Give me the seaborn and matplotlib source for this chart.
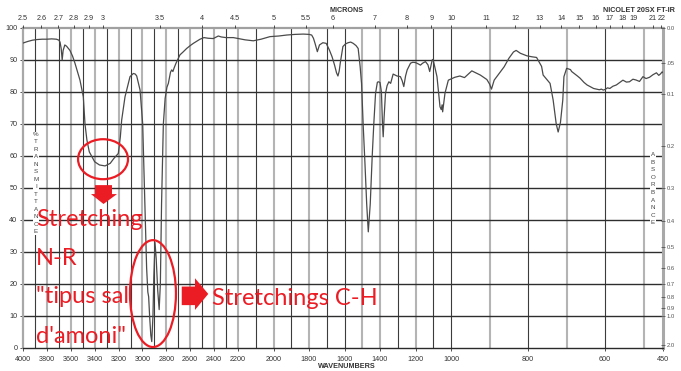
import numpy as np
import pandas as pd
import matplotlib
matplotlib.use("Agg")
import matplotlib.pyplot as plt
import seaborn as sns
from matplotlib.patches import Ellipse, Polygon

# ---- spectrum (wavenumber in cm-1, %T) ----
wavenumber = [
    4000, 3960, 3920, 3880, 3840, 3800, 3760, 3720, 3700, 3690, 3680, 3672, 3664,
    3650, 3635, 3607, 3585, 3565, 3545, 3523, 3495, 3481, 3465, 3445, 3400, 3360,
    3313, 3270, 3240, 3202, 3185, 3174, 3146, 3104, 3076, 3060, 3048, 3035, 3020,
    2998, 2980, 2965, 2955, 2948, 2940, 2930, 2922, 2912, 2905, 2895, 2885, 2872,
    2860, 2850, 2840, 2825, 2810, 2795, 2783, 2765, 2755, 2745, 2735, 2719, 2700,
    2686, 2660, 2630, 2600, 2574, 2540, 2518, 2485, 2450, 2407, 2380, 2365, 2340,
    2300, 2239, 2211, 2160, 2114, 2070, 2020, 1970, 1926, 1880, 1832, 1800, 1785,
    1775, 1766, 1753, 1741, 1722, 1703, 1685, 1670, 1656, 1645, 1637, 1630, 1624,
    1609, 1595, 1580, 1565, 1551, 1535, 1523, 1512, 1504, 1495, 1485, 1475, 1466,
    1455, 1444, 1435, 1425, 1415, 1410, 1400, 1392, 1386, 1382, 1377, 1369, 1360,
    1350, 1340, 1326, 1315, 1304, 1285, 1275, 1266, 1256, 1247, 1228, 1215, 1200,
    1185, 1172, 1160, 1144, 1130, 1120, 1106, 1101, 1090, 1079, 1070, 1062, 1055,
    1050, 1047, 1040, 1034, 1015, 1003, 990, 977, 965, 946, 924, 907, 900, 895,
    888, 880, 862, 850, 838, 831, 820, 803, 790, 778, 765, 761, 752, 743, 735,
    727, 722, 716, 710, 707, 700, 690, 687, 672, 665, 655, 647, 638, 630, 622,
    615, 610, 605, 600, 594, 588, 580, 571, 562, 554, 545, 537, 528, 520, 511,
    502, 494, 485, 476, 467, 461, 457, 452, 450,
]
transmittance = [
    95.3, 95.8, 96.2, 96.4, 96.5, 96.5, 96.6, 96.5, 96.2, 95.6, 93.5, 90.0, 93.0,
    94.7, 94.3, 93.0, 91.2, 89.0, 86.5, 83.7, 78.5, 70.0, 65.0, 61.3, 58.2, 57.2,
    56.9, 57.7, 59.2, 60.8, 66.0, 71.2, 78.5, 84.8, 85.8, 85.6, 85.0, 83.0, 80.6,
    70.0, 45.0, 25.0, 17.5, 16.0, 10.0, 4.0, 2.0, 10.0, 22.0, 33.0, 28.0, 18.0,
    12.0, 20.0, 45.0, 70.0, 78.0, 81.5, 82.7, 86.2, 86.9, 86.4, 87.5, 89.0, 90.5,
    91.6, 92.5, 93.6, 94.5, 95.2, 96.0, 96.5, 97.0, 96.8, 96.7, 97.2, 97.5, 97.2,
    97.0, 97.0, 96.8, 96.3, 96.0, 96.5, 97.3, 97.5, 97.8, 98.0, 98.1, 98.0, 97.8,
    96.8, 95.2, 92.6, 94.7, 95.4, 95.2, 93.1, 91.0, 88.4, 86.0, 85.0, 86.5, 89.0,
    94.2, 95.0, 95.4, 95.6, 95.2, 94.5, 93.6, 88.0, 82.7, 70.0, 58.0, 45.0, 36.3,
    45.0, 59.8, 70.0, 79.6, 83.0, 83.2, 83.0, 80.0, 70.0, 66.0, 72.0, 79.6, 82.0,
    83.2, 82.7, 85.6, 85.3, 85.0, 84.8, 83.5, 81.7, 85.0, 86.9, 89.0, 89.3, 89.2,
    88.8, 88.4, 89.0, 89.5, 88.5, 86.4, 90.0, 90.2, 87.5, 84.8, 80.0, 75.4, 74.5,
    76.0, 73.8, 77.0, 79.6, 83.7, 84.0, 84.6, 85.0, 84.5, 86.6, 85.3, 83.9, 82.5,
    80.9, 83.7, 85.0, 87.9, 90.5, 92.5, 93.0, 92.1, 91.3, 91.0, 90.8, 88.0, 85.3,
    84.0, 82.7, 77.5, 70.0, 67.5, 70.5, 77.5, 84.8, 87.4, 87.0, 86.4, 85.0, 84.3,
    83.0, 82.2, 81.6, 81.1, 80.9, 80.7, 80.9, 80.6, 80.8, 81.3, 81.1, 81.8, 82.2,
    83.0, 83.7, 83.1, 83.2, 84.0, 83.75, 83.3, 84.8, 84.2, 84.6, 85.4, 86.0, 85.2,
    85.6, 86.3, 86.0,
]

# ---- axis ticks ----
wn_ticks = [4000, 3800, 3600, 3400, 3200, 3000, 2800, 2600, 2400, 2200, 2000,
            1800, 1600, 1400, 1200, 1000, 800, 600, 450]
micron_ticks = [2.5, 2.6, 2.7, 2.8, 2.9, 3, 3.5, 4, 4.5, 5, 5.5, 6, 7, 8, 9, 10,
                11, 12, 13, 14, 15, 16, 17, 18, 19, 21, 22]
micron_labels = ["2.5", "2.6", "2.7", "2.8", "2.9", "3", "3.5", "4", "4.5", "5",
                 "5.5", "6", "7", "8", "9", "10", "11", "12", "13", "14", "15",
                 "16", "17", "18", "19", "21", "22"]
percent_ticks = [0, 10, 20, 30, 40, 50, 60, 70, 80, 90, 100]
absorbance_ticks = [0.0, 0.05, 0.1, 0.2, 0.3, 0.4, 0.5, 0.6, 0.7, 0.8, 0.9, 1.0, 2.0]
absorbance_labels = ["0.0", ".05", "0.1", "0.2", "0.3", "0.4", "0.5", "0.6",
                     "0.7", "0.8", "0.9", "1.0", "2.0"]

# chart grid lines every 100 cm-1 (drawn in two weights)
grid_wn = list(range(3900, 400, -100))
heavy_grid = {3900, 3700, 3500, 3300, 3100, 2900, 2700, 2500, 2300, 2100, 1900,
              1700, 1600, 1300, 1100, 1000, 800, 600}

# ---- piecewise-linear wavenumber scale (expanded below 2200 and 1000 cm-1) ----
_WN = np.array([450.0, 1000.0, 2200.0, 4000.0])
_U = np.array([0.0, 212.0, 425.0, 640.0])


def _pw(x, xs, ys):
    x = np.asarray(x, dtype=float)
    out = np.interp(x, xs, ys)
    s_lo = (ys[1] - ys[0]) / (xs[1] - xs[0])
    s_hi = (ys[-1] - ys[-2]) / (xs[-1] - xs[-2])
    out = np.where(x < xs[0], ys[0] + (x - xs[0]) * s_lo, out)
    out = np.where(x > xs[-1], ys[-1] + (x - xs[-1]) * s_hi, out)
    return out


def wn_forward(w):
    return _pw(w, _WN, _U)


def wn_inverse(u):
    return _pw(u, _U, _WN)


sns.set_theme(style="white")
plt.rcParams["font.family"] = ["Liberation Sans", "DejaVu Sans"]

W, H = 681, 371
fig = plt.figure(figsize=(W / 100, H / 100), dpi=100)
ax = fig.add_axes([23 / W, 23 / H, 640 / W, 320 / H])
ax.set_xscale("function", functions=(wn_forward, wn_inverse))

df = pd.DataFrame({"wavenumber": wavenumber, "transmittance": transmittance})

# grid
for w in grid_wn:
    if w in heavy_grid:
        ax.axvline(w, color="#3c3c3c", lw=0.8, zorder=1)
    else:
        ax.axvline(w, color="#b4b4b4", lw=1.5, zorder=1)
for t in percent_ticks[1:-1]:
    ax.axhline(t, color="#2e2e2e", lw=1.0, zorder=1)

sns.lineplot(data=df, x="wavenumber", y="transmittance", ax=ax, sort=False,
             estimator=None, color="#4a4a4a", linewidth=0.9, zorder=3)

ax.set_xlim(4000, 450)
ax.set_ylim(0, 100)
ax.set_xlabel("")
ax.set_ylabel("")
ax.set_xticks(wn_ticks)
ax.set_xticklabels([str(t) for t in wn_ticks])
ax.set_yticks(percent_ticks)
ax.set_yticklabels([str(t) for t in percent_ticks])
ax.xaxis.set_minor_locator(matplotlib.ticker.NullLocator())
ax.tick_params(axis="both", which="major", labelsize=5.2, length=2.5, width=0.6,
               pad=1.5, colors="#333333", direction="out")
ax.tick_params(axis="x", pad=3.5)
ax.tick_params(bottom=True, left=True)
for side, col, lw in [("left", "#a8a8a8", 1.6), ("top", "#a0a0a0", 1.6),
                      ("right", "#a8a8a8", 2.2), ("bottom", "#2a2a2a", 1.0)]:
    ax.spines[side].set_color(col)
    ax.spines[side].set_linewidth(lw)
    ax.spines[side].set_visible(True)

# top micron axis
ax_top = ax.twiny()
ax_top.set_xscale("function", functions=(wn_forward, wn_inverse))
ax_top.set_xlim(4000, 450)
ax_top.set_xticks([10000.0 / m for m in micron_ticks])
ax_top.set_xticklabels(micron_labels)
ax_top.xaxis.set_minor_locator(matplotlib.ticker.NullLocator())
ax_top.tick_params(axis="x", labelsize=5.2, length=2.5, width=0.6, pad=1.5,
                   colors="#333333", top=True, direction="out")
for s in ax_top.spines.values():
    s.set_visible(False)

# right absorbance axis
ax_r = ax.twinx()
ax_r.set_ylim(0, 100)
ax_r.set_yticks([100.0 * 10 ** (-a) for a in absorbance_ticks])
ax_r.set_yticklabels(absorbance_labels)
ax_r.tick_params(axis="y", labelsize=4.2, length=3, width=0.6, pad=1.0,
                 colors="#555555", right=True, direction="inout")
ax_r.yaxis.set_minor_locator(matplotlib.ticker.NullLocator())
for s in ax_r.spines.values():
    s.set_visible(False)

# axis titles
fig.text(347 / W, 1 - 10 / H, "MICRONS", ha="center", va="center", fontsize=5.2,
         fontweight="bold", color="#333333")
fig.text(675 / W, 1 - 10 / H, "NICOLET 20SX FT-IR", ha="right", va="center",
         fontsize=5.2, fontweight="bold", color="#333333")
fig.text(347 / W, 1 - 366 / H, "WAVENUMBERS", ha="center", va="center",
         fontsize=5.2, fontweight="bold", color="#333333")
ax.text(3891, 67.5, "\n".join("%TRANSMITTANCE"), ha="center", va="top",
        fontsize=4.5, linespacing=1.62, color="#444444", zorder=4,
        bbox=dict(facecolor="white", edgecolor="none", pad=0.3))
ax.text(476, 49.8, "\n".join("ABSORBANCE"), ha="center", va="center",
        fontsize=4.5, linespacing=1.65, color="#444444", zorder=4,
        bbox=dict(facecolor="white", edgecolor="none", pad=0.3))

# red annotations
red = "#ec1c24"
ax.add_patch(Ellipse((3330, 59.0), 418, 12.5, fill=False, edgecolor=red, lw=1.6, zorder=5))
ax.add_patch(Ellipse((2912, 17.0), 385, 33.4, fill=False, edgecolor=red, lw=1.6, zorder=5))
ax.add_patch(Polygon([(3397, 50.9), (3255, 50.9), (3255, 48.1), (3213, 48.1),
                      (3326, 45.0), (3431, 48.1), (3397, 48.1)],
                     closed=True, facecolor=red, edgecolor="none", zorder=5))
ax.add_patch(Polygon([(2671, 19.2), (2560, 19.2), (2560, 21.8), (2449, 16.9),
                      (2560, 11.9), (2560, 13.4), (2671, 13.4)],
                     closed=True, facecolor=red, edgecolor="none", zorder=5))
note_font = dict(color=red, fontsize=17, ha="left", va="baseline", zorder=6,
                 family=["Lato", "DejaVu Sans"])
ax.text(3891, 38.1, "Stretching", **note_font)
ax.text(3891, 25.9, "N-R", **note_font)
ax.text(3891, 14.1, "\"tipus sal", **note_font)
ax.text(3891, 1.6, "d'amoni\"", **note_font)
ax.text(2418, 13.4, "Stretchings C-H", **note_font)

fig.savefig("out.png", dpi=100)
